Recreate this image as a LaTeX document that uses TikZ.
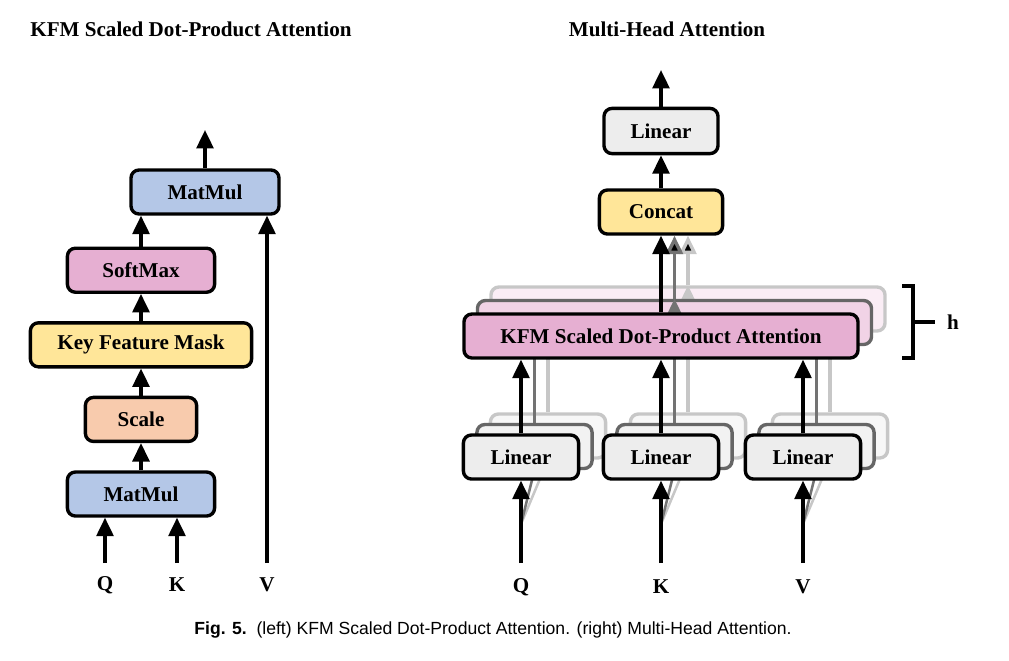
\documentclass[tikz,border=0pt]{standalone}
\usepackage{fontspec}
\setmainfont{Liberation Serif}
\newfontfamily\capfont{Liberation Sans}
\usepackage{tikz}
\usetikzlibrary{positioning, arrows.meta}
\definecolor{mulblue}{RGB}{180,199,231}
\definecolor{softpink}{RGB}{230,175,210}
\definecolor{maskyellow}{RGB}{255,230,153}
\definecolor{scalepeach}{RGB}{248,203,173}
\definecolor{lingray}{RGB}{237,237,237}
\tikzset{  
    auto,node distance =0.68cm and 0.68cm,% gap between two stacked boxes
    blk/.style ={rectangle, rounded corners=0.2cm, draw, line width=2.4pt, minimum height=1.1cm, inner sep=0pt, font=\fontsize{15}{18}\selectfont\bfseries},
    backa/.style ={blk, draw=black!60},
    backb/.style ={blk, draw=black!22},
    arr/.style ={line width=2.4pt, -{Triangle[length=0.46cm, width=0.42cm]}},
    arrmid/.style ={arr, draw=black!55},
    arrlight/.style ={arr, draw=black!22},
    lbl/.style ={font=\fontsize{15}{18}\selectfont\bfseries},
}
\begin{document}
\begin{tikzpicture}[x=0.025cm, y=-0.025cm]
            \useasboundingbox (0,0) rectangle (1009,660);
            % left: scaled dot-product
            \node[lbl] (ltitle) at (191,29) {KFM Scaled Dot-Product Attention};
            \node[blk, fill=mulblue, minimum width=3.68cm] (mm1) at (141,494) {MatMul};
            \node[blk, fill=scalepeach, minimum width=2.78cm] (sc) [above =of mm1] {Scale};
            \node[blk, fill=maskyellow, minimum width=5.53cm] (mask) [above =of sc] {Key Feature Mask};
            \node[blk, fill=softpink, minimum width=3.68cm] (sm) [above =of mask] {SoftMax};
            \node[blk, fill=mulblue, minimum width=3.7cm] (mm2) at (205,192) {MatMul};
            \node[lbl] (lq) at (105,585) {Q};
            \node[lbl] (lk) at (177,585) {K};
            \node[lbl] (lv) at (267,585) {V};
            \coordinate (lqin) at (105,563);
            \coordinate (lkin) at (177,563);
            \coordinate (lvin) at (267,563);
            \coordinate (lout) at (205,130);
            \path[arr] (lqin) edge (lqin |- mm1.south);
            \path[arr] (lkin) edge (lkin |- mm1.south);
            \path[arr] (lvin) edge (lvin |- mm2.south);
            \path[arr] (mm1) edge (sc);
            \path[arr] (sc) edge (mask);
            \path[arr] (mask) edge (sm);
            \path[arr] (sm.north) edge (sm.north |- mm2.south);
            \path[arr] (mm2) edge (lout);
            % right: multi-head
            \node[lbl] (rtitle) at (667,29) {Multi-Head Attention};
            \node[blk, fill=lingray, minimum width=2.85cm, minimum height=1.13cm] (outlin) at (661,131) {Linear};
            \node[blk, fill=maskyellow, minimum width=3.08cm] (cc) at (661,212) {Concat};
            \coordinate (rout) at (661,70);
            \path[arr] (cc) edge (outlin);
            \path[arr] (outlin) edge (rout);
            % third (lightest) layer
            \node[backb, fill=softpink!22, minimum width=9.85cm] (att3) at (688,309) {};
            \node[backb, fill=lingray!45, minimum width=2.88cm] (qlinc) at (548,436) {};
            \node[backb, fill=lingray!45, minimum width=2.88cm] (klinc) at (688,436) {};
            \node[backb, fill=lingray!45, minimum width=2.88cm] (vlinc) at (830,436) {};
            \coordinate (qfan) at (521,524);
            \coordinate (kfan) at (661,524);
            \coordinate (vfan) at (803,524);
            \draw[line width=1.8pt, black!22] (qfan) -- (qlinc.south);
            \draw[line width=1.8pt, black!22] (kfan) -- (klinc.south);
            \draw[line width=1.8pt, black!22] (vfan) -- (vlinc.south);
            \draw[line width=2.4pt, black!22] (qlinc.north) -- (qlinc.north |- att3.south);
            \draw[line width=2.4pt, black!22] (klinc.north) -- (klinc.north |- att3.south);
            \draw[line width=2.4pt, black!22] (vlinc.north) -- (vlinc.north |- att3.south);
            \path[arrlight] (att3.north) edge (att3.north |- cc.south);
            % second layer
            \node[backa, fill=softpink!55, minimum width=9.85cm] (att2) at (674.5,322.5) {};
            \node[backa, fill=lingray!70, minimum width=2.88cm] (qlinb) at (534.5,446.5) {};
            \node[backa, fill=lingray!70, minimum width=2.88cm] (klinb) at (674.5,446.5) {};
            \node[backa, fill=lingray!70, minimum width=2.88cm] (vlinb) at (816.5,446.5) {};
            \draw[line width=1.8pt, black!55] (qfan) -- (qlinb.south);
            \draw[line width=1.8pt, black!55] (kfan) -- (klinb.south);
            \draw[line width=1.8pt, black!55] (vfan) -- (vlinb.south);
            \draw[line width=2.4pt, black!55] (qlinb.north) -- (qlinb.north |- att2.south);
            \draw[line width=2.4pt, black!55] (klinb.north) -- (klinb.north |- att2.south);
            \draw[line width=2.4pt, black!55] (vlinb.north) -- (vlinb.north |- att2.south);
            \path[arrmid] (att2.north) edge (att2.north |- cc.south);
            % front layer
            \node[blk, fill=softpink, minimum width=9.85cm] (att1) at (661,336) {KFM Scaled Dot-Product Attention};
            \node[blk, fill=lingray, minimum width=2.88cm] (qlin) at (521,457) {Linear};
            \node[blk, fill=lingray, minimum width=2.88cm] (klin) at (661,457) {Linear};
            \node[blk, fill=lingray, minimum width=2.88cm] (vlin) at (803,457) {Linear};
            \node[lbl] (rq) at (521,587) {Q};
            \node[lbl] (rk) at (661,587) {K};
            \node[lbl] (rv) at (803,587) {V};
            \coordinate (rqin) at (521,563);
            \coordinate (rkin) at (661,563);
            \coordinate (rvin) at (803,563);
            \path[arr] (rqin) edge (qlin);
            \path[arr] (rkin) edge (klin);
            \path[arr] (rvin) edge (vlin);
            \path[arr] (qlin) edge (qlin |- att1.south);
            \path[arr] (klin) edge (att1);
            \path[arr] (vlin) edge (vlin |- att1.south);
            \path[arr] (att1) edge (cc);
            % h bracket
            \draw[line width=2.4pt] (902,286) -| (913,358) -- (902,358);
            \draw[line width=2.4pt] (913,322) -- (935,322);
            \node[lbl] (hh) at (953,322) {h};
            % caption
            \node (cap) at (493,630) {\capfont\fontsize{12.5}{14}\selectfont\textbf{Fig. 5.}\ \ (left) KFM Scaled Dot-Product Attention. (right) Multi-Head Attention.};
        \end{tikzpicture}
\end{document}
